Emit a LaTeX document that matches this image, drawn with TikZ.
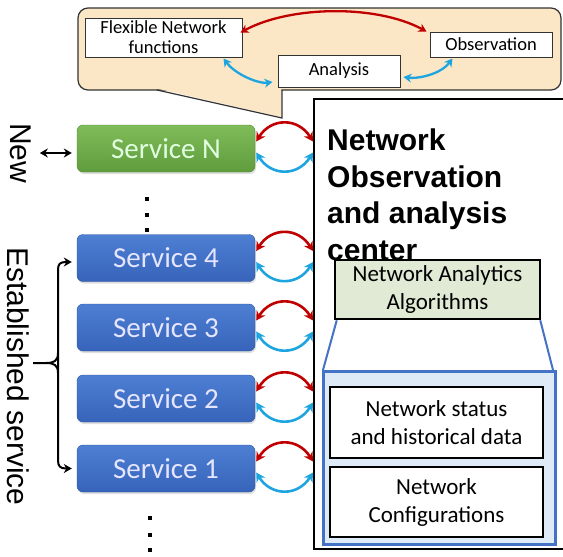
\documentclass[tikz,border=0pt]{standalone}
\usepackage{fontspec}
\setmainfont{Carlito}
\newfontfamily\arialf{Liberation Sans}
\usetikzlibrary{arrows.meta,calc,shadows}
\definecolor{calloutfill}{HTML}{FBE6C6}
\definecolor{arrred}{HTML}{C00000}
\definecolor{arrblue}{HTML}{1EA5E0}
\definecolor{svcblueT}{HTML}{4D7FD3}
\definecolor{svcblueB}{HTML}{3764BA}
\definecolor{svcgreenT}{HTML}{80BC59}
\definecolor{svcgreenB}{HTML}{5F9C3C}
\definecolor{algfill}{HTML}{E0EAD5}
\definecolor{contfill}{HTML}{DEEBF7}
\definecolor{contline}{HTML}{4472C4}
\tikzset{
  svcbox/.style={rounded corners=6pt, minimum width=178pt, minimum height=47pt,
    font=\fontsize{29}{34}\selectfont, inner sep=0pt,
    drop shadow={opacity=0.25, shadow xshift=1pt, shadow yshift=-2pt}},
  bluesvc/.style={svcbox, top color=svcblueT, bottom color=svcblueB, draw=svcblueB!85!black, text=white!90!blue},
  greensvc/.style={svcbox, top color=svcgreenT, bottom color=svcgreenB, draw=svcgreenB!85!black, text=white!88!green},
  redarc/.style={draw=arrred, line width=2.6pt, {Stealth[length=9pt,width=10pt]}-{Stealth[length=9pt,width=10pt]}},
  bluearc/.style={draw=arrblue, line width=2.6pt, {Stealth[length=9pt,width=10pt]}-{Stealth[length=9pt,width=10pt]}},
  smallred/.style={draw=arrred, line width=2.3pt, {Stealth[length=8pt,width=9pt]}-{Stealth[length=8pt,width=9pt]}},
  smallblue/.style={draw=arrblue, line width=2.3pt, {Stealth[length=8pt,width=9pt]}-{Stealth[length=8pt,width=9pt]}},
  cbox/.style={draw=black!80, fill=white, line width=1pt, inner sep=0pt, align=center,
    font=\fontsize{18.5}{20}\selectfont},
  databox/.style={draw=black, fill=white, line width=2.5pt, minimum width=213pt, inner sep=0pt,
    align=center, font=\fontsize{23}{28}\selectfont},
  titletxt/.style={anchor=base west, inner sep=0pt, font=\arialf\bfseries\fontsize{30}{35}\selectfont},
  sidetxt/.style={rotate=-90, anchor=base west, inner sep=0pt, font=\arialf\fontsize{30}{36}\selectfont},
  blackarr/.style={draw=black, line width=2pt, {Stealth[length=8pt,width=9pt]}-{Stealth[length=8pt,width=9pt]}}
}
\begin{document}
\begin{tikzpicture}[x=1pt,y=-1pt]
\useasboundingbox (0,0) rectangle (563,557);
\fill[white] (0,0) rectangle (563,557);

% callout
\filldraw[fill=calloutfill, draw=black!80, line width=1.2pt, rounded corners=10pt] (78,8) rectangle (561,90);
\fill[calloutfill] (158,88.8) -- (281.4,88.8) -- (281.4,117) -- cycle;
\draw[black!80, line width=1.2pt] (157,90) -- (282,118) -- (282,90);

\node[cbox, minimum width=157pt, minimum height=39pt] (flex) at (163.5,37.5) {Flexible Network\\functions};
\node[cbox, minimum width=122pt, minimum height=25pt] (obs) at (491,44.5) {Observation};
\node[cbox, minimum width=122pt, minimum height=32pt] (ana) at (339,71) {Analysis};

\draw[smallred] ($(flex.east)+(-2,-5)$) .. controls +(50,-27) and +(-50,-27) .. ($(obs.north west)+(-3,0)$);
\draw[smallblue] ($(flex.south east)+(-19,1)$) .. controls +(12,16) and +(-14,2) .. ($(ana.west)+(-5,11)$);
\draw[smallblue] ($(ana.east)+(3,6)$) .. controls +(14,2) and +(-12,16) .. ($(obs.south west)+(23,1)$);

% main center box
\node[draw=black, fill=white, line width=1.5pt, minimum width=270pt, minimum height=450pt,
  anchor=north west, inner sep=0pt] (main) at (313,98) {};
\node[titletxt] (t1) at (327,150) {Network};
\node[titletxt] (t2) at (327,187) {Observation};
\node[titletxt] (t3) at (327,223) {and analysis};
\node[titletxt] (t4) at (327,260) {center};

\node[draw=black, fill=algfill, line width=2.5pt, minimum width=205pt, minimum height=59pt,
  inner sep=0pt, align=center, font=\fontsize{23}{28}\selectfont] (alg) at (437.5,289.5)
  {Network Analytics\\Algorithms};
\draw[contline, line width=2pt] ($(alg.south west)+(3,0)$) -- (323,370);
\draw[contline, line width=2pt] ($(alg.south east)+(-1,0)$) -- (553,370);
\node[draw=contline, fill=contfill, line width=2.5pt, minimum width=232pt, minimum height=173pt,
  anchor=north west, inner sep=0pt] (cont) at (322,370) {};
\node[databox, minimum height=71pt] (status) at (436.5,422.5) {Network status\\and historical data};
\node[databox, minimum height=70pt] (conf) at (436.5,502) {Network\\Configurations};

% services
\node[greensvc] (sN) at (166,148.5) {Service N};
\node[bluesvc] (s4) at (166,258) {Service 4};
\node[bluesvc] (s3) at (166,327.5) {Service 3};
\node[bluesvc] (s2) at (166,398.5) {Service 2};
\node[bluesvc] (s1) at (166,468.5) {Service 1};

\foreach \s in {sN,s4,s3,s2,s1}{
  \draw[redarc] ($(\s.east)+(1,-7)$) .. controls +(15,-24) and +(-15,-24) .. ($(main.west |- \s.east)+(0,-7)$);
  \draw[bluearc] ($(\s.east)+(1,4)$) .. controls +(15,24) and +(-15,24) .. ($(main.west |- \s.east)+(0,4)$);
}

% dots
\foreach \yy in {199,215,230}{\fill (145,\yy-2) rectangle (149,\yy+2);}
\foreach \yy in {518,535,550}{\fill (148,\yy-2) rectangle (152,\yy+2);}

% side labels
\node[sidetxt] (newlbl) at (10,123) {New};
\draw[blackarr] ($(sN.west)+(-37,4.5)$) -- ($(sN.west)+(-5,4.5)$);

\node[sidetxt] (estlbl) at (7,247) {Established service};
\coordinate (btop) at ($(s4.west)+(-5,4)$);
\coordinate (bbot) at ($(s1.west)+(-5,0)$);
\draw[draw=black, line width=2pt, -{Stealth[length=8pt,width=9pt]}]
  (58,363) -- (58,270) .. controls (58,264) and (60,262) .. (66,262) -- (btop);
\draw[draw=black, line width=2pt, -{Stealth[length=8pt,width=9pt]}]
  (58,363) -- (58,460) .. controls (58,466) and (60,468.5) .. (66,468.5) -- (bbot);
\draw[black, line width=2pt] (58,353) .. controls (58,361) and (54,363) .. (46,363) -- (33,363);
\draw[black, line width=2pt] (58,373) .. controls (58,365) and (54,363) .. (46,363);
\end{tikzpicture}
\end{document}
